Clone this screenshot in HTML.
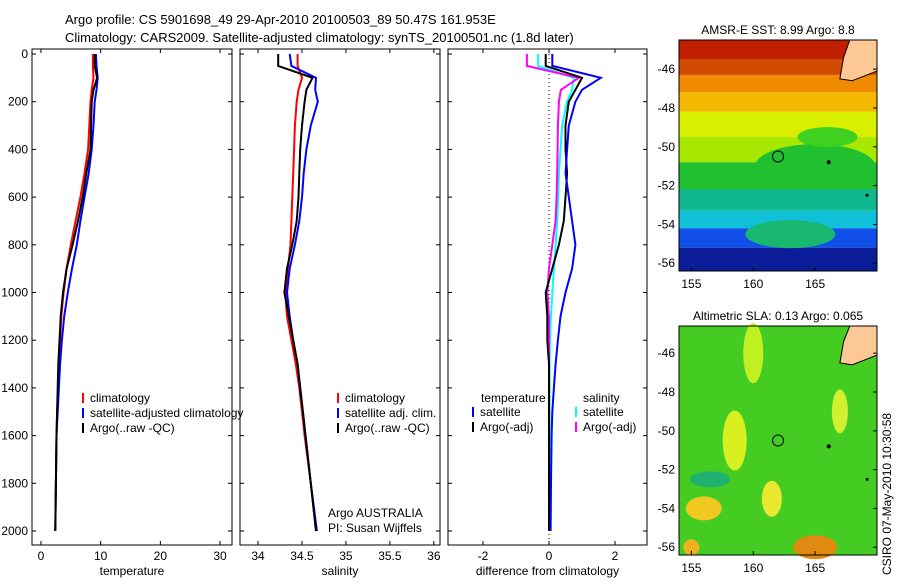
<!DOCTYPE html>
<html><head><meta charset="utf-8"><style>
body{margin:0;background:#fff;font-family:"Liberation Sans",sans-serif}
svg text{font-family:"Liberation Sans",sans-serif;font-size:12px;fill:#000}
</style></head><body>
<svg id="c" width="900" height="580" xmlns="http://www.w3.org/2000/svg">
<text x="65" y="24" style="font-size:13px">Argo profile: CS 5901698_49 29-Apr-2010 20100503_89 50.47S 161.953E</text>
<text x="65" y="42" style="font-size:13px">Climatology: CARS2009. Satellite-adjusted climatology: synTS_20100501.nc (1.8d later)</text>
<g id="maps"></g>
<text transform="translate(891,575) rotate(-90)">CSIRO 07-May-2010 10:30:58</text>
</svg>
<script>
const depths=[0,50,100,150,200,300,400,500,600,700,800,900,1000,1100,1200,1300,1400,1500,1600,1800,2000];
const tClim=[8.7,8.7,8.8,8.5,8.3,8.1,7.9,7.3,6.6,5.8,5.0,4.3,3.8,3.4,3.2,3.0,2.9,2.7,2.6,2.5,2.4];
const tSat=[9.2,9.3,9.5,9.3,9.0,8.8,8.5,8.0,7.3,6.6,6.0,5.2,4.5,3.9,3.5,3.2,3.0,2.8,2.6,2.5,2.4];
const tArgo=[9.0,9.0,9.4,8.8,8.5,8.4,8.3,7.6,7.0,6.2,5.3,4.3,3.7,3.3,3.1,2.9,2.8,2.7,2.6,2.5,2.4];
const sClim=[34.45,34.45,34.5,34.46,34.44,34.42,34.41,34.4,34.39,34.38,34.37,34.34,34.31,34.33,34.38,34.43,34.47,34.5,34.53,34.6,34.66];
const sSat=[34.36,34.38,34.66,34.65,34.68,34.6,34.55,34.52,34.5,34.47,34.42,34.36,34.33,34.36,34.4,34.45,34.48,34.51,34.54,34.6,34.67];
const sArgo=[34.23,34.23,34.62,34.55,34.53,34.5,34.48,34.47,34.46,34.44,34.39,34.33,34.3,34.35,34.4,34.45,34.48,34.51,34.54,34.6,34.66];
const dT=[-0.1,-0.1,1.0,0.8,0.6,0.5,0.5,0.55,0.5,0.45,0.3,0.1,-0.1,-0.05,-0.05,0,0,0,0,0,0];
const dTs=[0.1,0.1,1.57,1.0,0.8,0.6,0.55,0.5,0.6,0.7,0.8,0.7,0.5,0.35,0.27,0.2,0.15,0.1,0.08,0.06,0.05];
const dS=[-0.67,-0.67,0.9,0.36,0.3,0.27,0.26,0.25,0.23,0.2,0.1,0,-0.05,0,0,0,0,0,0,0,0];
const dSs=[-0.33,-0.33,0.75,0.7,0.55,0.4,0.35,0.3,0.28,0.25,0.2,0.15,0.1,0.06,0.03,0.02,0.02,0.02,0.02,0.02,0.02];
const depthTicks=[0,200,400,600,800,1000,1200,1400,1600,1800,2000];
const NS='http://www.w3.org/2000/svg';
const svg=document.getElementById('c');
function el(t,a,p){const e=document.createElementNS(NS,t);for(const k in a)e.setAttribute(k,a[k]);(p||svg).appendChild(e);return e;}
const yD=d=>54+d*477/2000;
const panels=[
 {x0:32,x1:232,v0:-1.5,v1:32,ticks:[0,10,20,30],lab:'temperature',name:'temperature-panel',
  series:[[tClim,'#f00'],[tSat,'#00f'],[tArgo,'#000']]},
 {x0:240,x1:440,v0:33.795,v1:36.07,ticks:[34,34.5,35,35.5,36],lab:'salinity',name:'salinity-panel',
  series:[[sClim,'#f00'],[sSat,'#00f'],[sArgo,'#000']]},
 {x0:448,x1:647,v0:-3.06,v1:2.97,ticks:[-2,0,2],lab:'difference from climatology',name:'difference-panel',
  series:[[dSs,'#0ff'],[dS,'#f0f'],[dT,'#000'],[dTs,'#00f']]}
];
panels.forEach((p,pi)=>{
 const g=el('g',{});
 
 
 const xs=v=>p.x0+(v-p.v0)/(p.v1-p.v0)*(p.x1-p.x0);
 el('rect',{x:p.x0,y:49,width:p.x1-p.x0,height:496,fill:'none',stroke:'#000'},g);
 depthTicks.forEach(d=>{const y=yD(d);
  el('line',{x1:p.x0,x2:p.x0+4,y1:y,y2:y,stroke:'#000'},g);el('line',{x1:p.x1,x2:p.x1-4,y1:y,y2:y,stroke:'#000'},g);
  if(pi==0){const t=el('text',{x:28,y:y+4,'text-anchor':'end'},g);t.textContent=d;}});
 p.ticks.forEach(v=>{const x=xs(v);
  el('line',{x1:x,x2:x,y1:545,y2:541,stroke:'#000'},g);el('line',{x1:x,x2:x,y1:49,y2:53,stroke:'#000'},g);
  const t=el('text',{x:x,y:560,'text-anchor':'middle'},g);t.textContent=v;});
 const tl=el('text',{x:(p.x0+p.x1)/2,y:575,'text-anchor':'middle'},g);tl.textContent=p.lab;
 if(pi==2){el('line',{x1:xs(0),x2:xs(0),y1:54,y2:545,stroke:'#000','stroke-dasharray':'1,3'},g);}
 p.series.forEach(s=>{
  const pts=s[0].map((v,i)=>xs(v).toFixed(1)+','+yD(depths[i]).toFixed(1)).join(' ');
  const l=el('polyline',{points:pts,fill:'none',stroke:s[1],'stroke-width':2},g);
  
  
 });
});
function legend(items,x,y){items.forEach((it,i)=>{const yy=y+i*15;
 if(it[1])el('line',{x1:x,x2:x,y1:yy-9,y2:yy+1,stroke:it[1],'stroke-width':2});
 const t=el('text',{x:x+7,y:yy});t.textContent=it[0];});}
legend([['climatology','#f00'],['satellite-adjusted climatology','#00f'],['Argo(..raw -QC)','#000']],83,402);
legend([['climatology','#f00'],['satellite adj. clim.','#00f'],['Argo(..raw -QC)','#000']],338,402);
legend([['satellite','#00f'],['Argo(-adj)','#000']],473,416);
legend([['satellite','#0ff'],['Argo(-adj)','#f0f']],576,416);
let t=el('text',{x:481,y:402});t.textContent='temperature';
t=el('text',{x:583,y:402});t.textContent='salinity';
t=el('text',{x:328,y:517});t.textContent='Argo AUSTRALIA';
t=el('text',{x:328,y:532});t.textContent='PI: Susan Wijffels';
const mg=document.getElementById('maps');
function map(y0,y1,latTop,title,name,bands,blobs){
 const g=el('g',{},mg);
 
 
 const yl=lat=>y0+(latTop-lat)*(y1-y0)/(latTop+56.4);
 const xl=lon=>679+(lon-154)*198/16;
 bands.forEach(b=>el('rect',{x:679,y:yl(b[0]),width:198,height:yl(b[1])-yl(b[0]),fill:b[2]},g));
 blobs.forEach(b=>el('ellipse',{cx:xl(b[0]),cy:yl(b[1]),rx:b[2],ry:b[3],fill:b[4]},g));
 el('path',{d:`M${xl(167.8)},${y0} L877,${y0} L877,${yl(-46.1)} L${xl(168)},${yl(-46.6)} L${xl(167)},${yl(-46.5)} L${xl(167.3)},${yl(-45.4)} Z`,fill:'#fcc896',stroke:'#000'},g);
 el('circle',{cx:xl(162),cy:yl(-50.5),r:5.5,fill:'none',stroke:'#000'},g);
 el('circle',{cx:xl(166.1),cy:yl(-50.8),r:2,fill:'#000'},g);
 el('circle',{cx:xl(169.2),cy:yl(-52.5),r:1.5,fill:'#000'},g);
 el('rect',{x:679,y:y0,width:198,height:y1-y0,fill:'none',stroke:'#000'},g);
 [-46,-48,-50,-52,-54,-56].forEach(l=>{const y=yl(l);el('line',{x1:877,x2:873,y1:y,y2:y,stroke:'#000'},g);
  const tt=el('text',{x:675,y:y+4,'text-anchor':'end'},g);tt.textContent=l;});
 [155,160,165].forEach(l=>{const x=xl(l);el('line',{x1:x,x2:x,y1:y1,y2:y1-4,stroke:'#000'},g);
  const tt=el('text',{x:x,y:y1+17,'text-anchor':'middle'},g);tt.textContent=l;});
 const tt=el('text',{x:778,y:y0-6,'text-anchor':'middle'},g);tt.textContent=title;
}
map(40,271,-44.5,'AMSR-E SST: 8.99 Argo: 8.8','sst-map',
 [[-44.5,-45.5,'#c02000'],[-45.5,-46.3,'#d04a00'],[-46.3,-47.2,'#f08a00'],[-47.2,-48.2,'#f4b800'],[-48.2,-49.5,'#d8f000'],[-49.5,-50.8,'#a8e800'],[-50.8,-52.2,'#20c030'],[-52.2,-53.3,'#10b890'],[-53.3,-54.2,'#10c0d8'],[-54.2,-55.2,'#1050e8'],[-55.2,-56.4,'#0a1c98']],
 [[165,-51,60,22,'#20c030'],[166,-49.5,30,10,'#40d020'],[163,-54.5,45,14,'#18b870']]);
map(326,555,-44.6,'Altimetric SLA: 0.13 Argo: 0.065','sla-map',
 [[-44.6,-56.4,'#44cc22']],
 [[158.5,-50.5,12,30,'#d8f020'],[161.5,-53.5,10,18,'#e8e830'],[156,-54,18,12,'#f0c820'],[165,-56,22,12,'#e08a10'],[160,-46,10,30,'#c0f020'],[167,-49,8,22,'#d0f030'],[156.5,-52.5,20,8,'#20b070'],[155,-56,8,8,'#f0b020']]);
</script>
</body></html>
